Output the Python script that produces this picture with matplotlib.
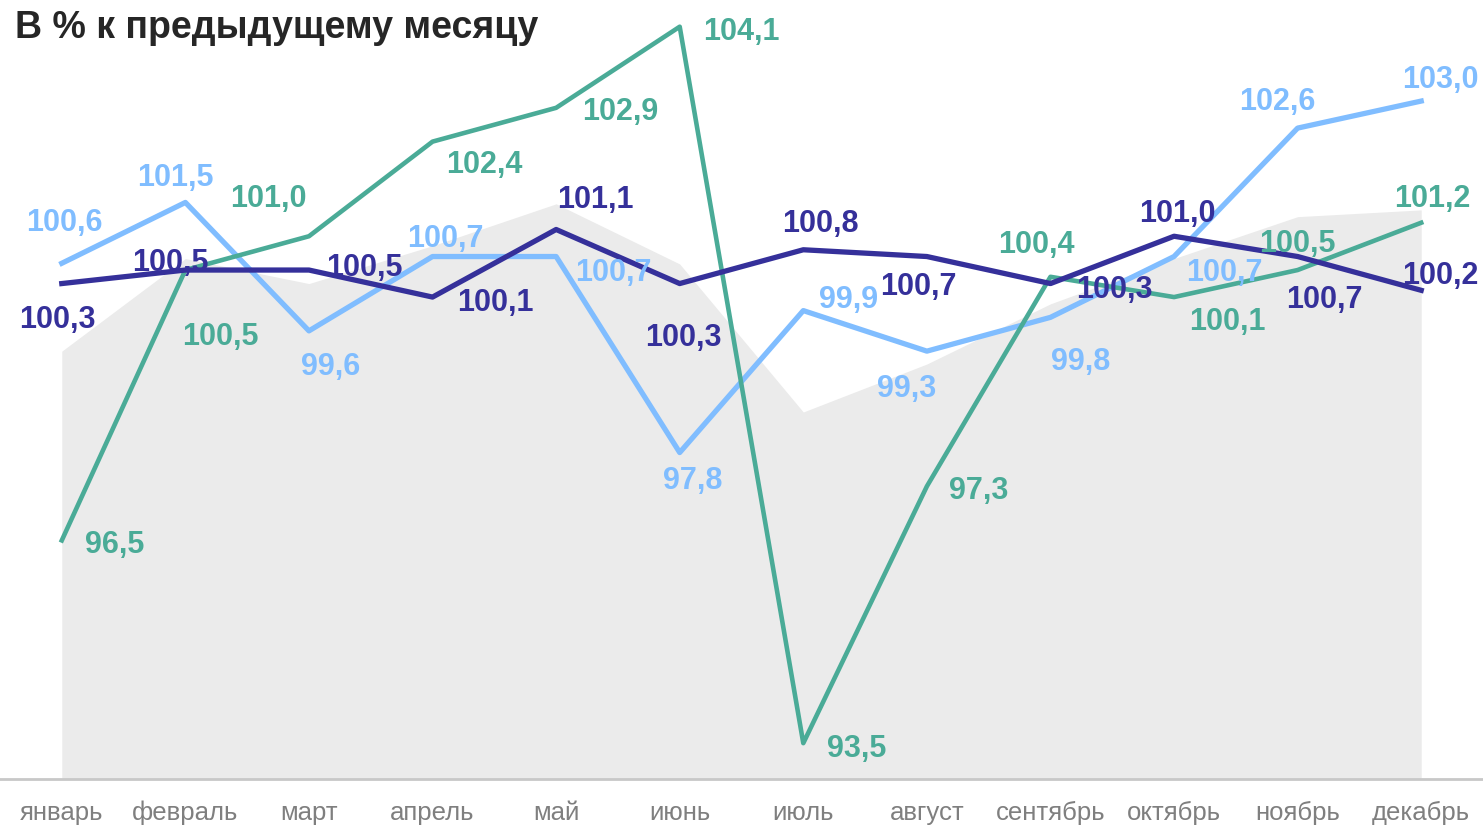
import matplotlib.pyplot as plt

plt.rcParams['font.family'] = ['Liberation Sans', 'DejaVu Sans']

# Data
months = ["январь", "февраль", "март", "апрель", "май", "июнь",
          "июль", "август", "сентябрь", "октябрь", "ноябрь", "декабрь"]
light_blue = [100.6, 101.5, 99.6, 100.7, 100.7, 97.8, 99.9, 99.3, 99.8, 100.7, 102.6, 103.0]
navy = [100.3, 100.5, 100.5, 100.1, 101.1, 100.3, 100.8, 100.7, 100.3, 101.0, 100.7, 100.2]
teal = [96.5, 100.5, 101.0, 102.4, 102.9, 104.1, 93.5, 97.3, 100.4, 100.1, 100.5, 101.2]
# background area (no labels)
gray_area = [99.3, 100.67, 100.3, 100.86, 101.48, 100.59, 98.4, 99.11, 100.0, 100.67, 101.29, 101.39]

# label offsets in pixels (dx, dy)
off_blue = [(3, 44), (-10, 28), (22, -32), (13, 22), (57, -12), (13, -24),
            (45, 15), (-20, -34), (30, -41), (50, -12), (-20, 30), (19, 25)]
off_navy = [(-4, -32), (-15, 11), (55, 6), (63, -2), (39, 33), (4, -50),
            (17, 30), (-8, -26), (64, -2), (3, 26), (27, -39), (19, 18)]
off_teal = [(53, -1), (35, -63), (-41, 41), (52, -19), (64, 0), (62, -1),
            (53, -2), (52, -1), (-14, 36), (53, -21), (0, 30), (11, 28)]

c_blue = '#80bdff'
c_navy = '#35309a'
c_teal = '#4aab97'

fig = plt.figure(figsize=(14.83, 8.28), dpi=100)
ax = fig.add_axes([0, 48 / 828, 1, 780 / 828])

x = list(range(len(months)))
ymin, ymax = 92.97, 104.51

ax.fill_between(x, gray_area, ymin, color='#ebebeb', lw=0, zorder=1)
ax.plot(x, light_blue, color=c_blue, lw=3.8, zorder=3)
ax.plot(x, teal, color=c_teal, lw=3.3, zorder=4)
ax.plot(x, navy, color=c_navy, lw=3.8, zorder=5)

for vals, offs, col in [(light_blue, off_blue, c_blue), (navy, off_navy, c_navy), (teal, off_teal, c_teal)]:
    for i, v in enumerate(vals):
        dx, dy = offs[i]
        ax.annotate(f"{v:.1f}".replace('.', ','), (i, v), xytext=(dx, dy - 3),
                    textcoords='offset pixels', ha='center', va='center',
                    fontsize=22, fontweight='bold', color=col, zorder=10)

ax.set_xlim(-0.5, 11.5)
ax.set_ylim(ymin, ymax)
ax.set_xticks(x)
ax.set_xticklabels(months, fontsize=18.5, color='#7f7f7f')
ax.tick_params(axis='x', length=0, pad=15)
ax.set_yticks([])
for s in ['top', 'left', 'right']:
    ax.spines[s].set_visible(False)
ax.spines['bottom'].set_color('#c8c8c8')
ax.spines['bottom'].set_linewidth(2)

fig.text(15 / 1483, 1 - 28 / 828, "В % к предыдущему месяцу", fontsize=27,
         fontweight='bold', color='#262626', ha='left', va='center')

fig.savefig("out.png", dpi=100)
